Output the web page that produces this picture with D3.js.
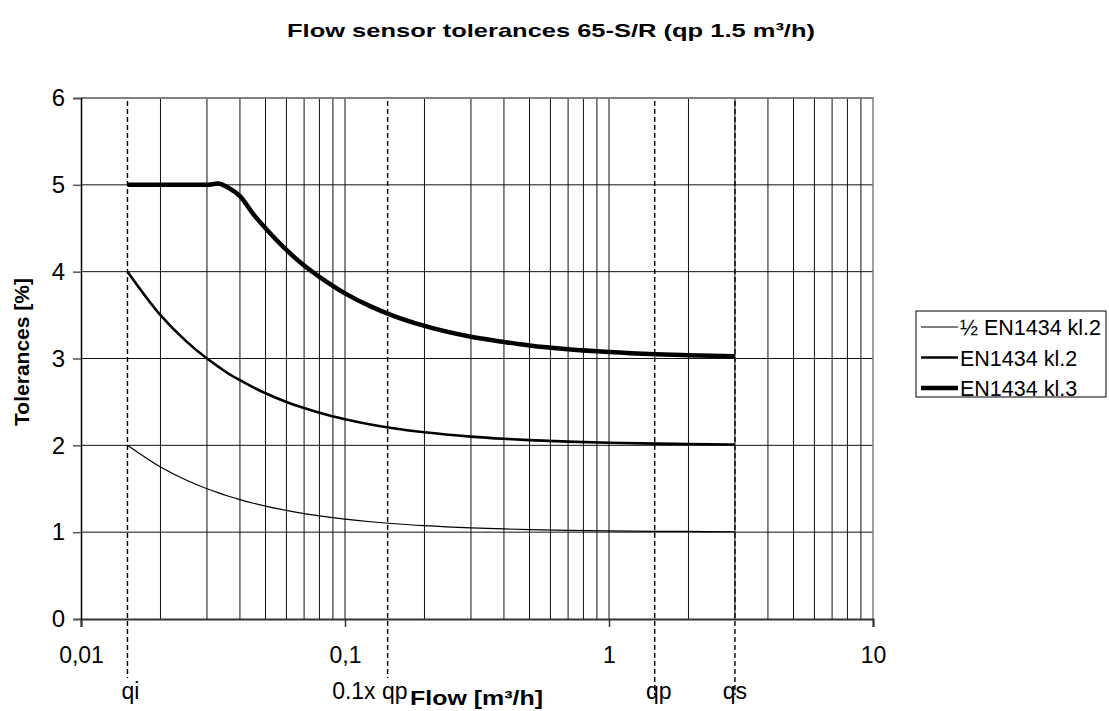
<!DOCTYPE html>
<html>
<head>
<meta charset="utf-8">
<script src="https://cdn.jsdelivr.net/npm/d3@7"></script>
<style>
  body { margin: 0; background: #fff; }
  text { font-family: Arial, "Liberation Sans", sans-serif; }
</style>
</head>
<body>
<div id="chart"></div>
<script>
const flow = [0.015, 0.02, 0.025, 0.03, 0.033, 0.036, 0.04, 0.045, 0.05, 0.06, 0.07, 0.08, 0.1, 0.125, 0.15, 0.2, 0.3, 0.4, 0.5, 0.7, 1, 1.5, 2, 3];
const halfKl2 = [2, 1.75, 1.6, 1.5, 1.455, 1.417, 1.375, 1.333, 1.3, 1.25, 1.214, 1.188, 1.15, 1.12, 1.1, 1.075, 1.05, 1.038, 1.03, 1.021, 1.015, 1.01, 1.008, 1.005];
const kl2 = [4, 3.5, 3.2, 3.0, 2.91, 2.83, 2.75, 2.667, 2.6, 2.5, 2.43, 2.375, 2.3, 2.24, 2.2, 2.15, 2.1, 2.075, 2.06, 2.043, 2.03, 2.02, 2.015, 2.01];
const kl3 = [5, 5, 5, 5, 5.015, 4.97, 4.87, 4.66, 4.5, 4.25, 4.07, 3.94, 3.75, 3.6, 3.5, 3.375, 3.25, 3.19, 3.15, 3.107, 3.075, 3.05, 3.038, 3.025];

const seriesNames = ['\u00BD EN1434 kl.2', 'EN1434 kl.2', 'EN1434 kl.3'];
const seriesWidths = [1.2, 2.6, 4.5];

// reference flows (dashed markers)
const markerNames = ['qi', '0.1x qp', 'qp', 'qs'];
const markerFlows = [0.015, 0.145, 1.49, 3];

const xTicks = [0.01, 0.1, 1, 10];
const yTicks = [0, 1, 2, 3, 4, 5, 6];

const width = 1109, height = 711;
const margin = {top: 98, right: 236, bottom: 92, left: 81};
const plotW = width - margin.left - margin.right;
const plotH = height - margin.top - margin.bottom;

const svg = d3.select('#chart').append('svg')
  .attr('width', width)
  .attr('height', height);

const x = d3.scaleLog().domain([0.01, 10]).range([0, plotW]);
const y = d3.scaleLinear().domain([0, 6]).range([plotH, 0]);

const g = svg.append('g').attr('transform', `translate(${margin.left},${margin.top})`);

// vertical grid: 1..9 in every decade
const gridX = [];
[0.01, 0.1, 1].forEach(dec => {
  for (let k = 1; k <= 9; k++) gridX.push(dec * k);
});
g.append('g').selectAll('line')
  .data(gridX.filter(v => v > 0.01))
  .enter().append('line')
  .attr('x1', d => x(d)).attr('x2', d => x(d))
  .attr('y1', 0).attr('y2', plotH)
  .attr('stroke', '#111').attr('stroke-width', 1);

g.append('g').selectAll('line')
  .data(yTicks.filter(v => v > 0))
  .enter().append('line')
  .attr('x1', 0).attr('x2', plotW)
  .attr('y1', d => y(d)).attr('y2', d => y(d))
  .attr('stroke', '#111').attr('stroke-width', 1);

// plot border (top / right)
g.append('path')
  .attr('d', `M0,0H${plotW}V${plotH}`)
  .attr('fill', 'none')
  .attr('stroke', '#808080')
  .attr('stroke-width', 1.5);

// dashed marker lines
const markerBottom = [678, 678, 695, 695];
g.append('g').selectAll('line')
  .data(markerFlows)
  .enter().append('line')
  .attr('x1', d => x(d)).attr('x2', d => x(d))
  .attr('y1', 3).attr('y2', (d, i) => markerBottom[i] - margin.top)
  .attr('stroke', '#000')
  .attr('stroke-width', 1.4)
  .attr('stroke-dasharray', '5,3');

// curves
const line = d3.line()
  .x(d => x(d[0]))
  .y(d => y(d[1]))
  .curve(d3.curveMonotoneX);

[halfKl2, kl2, kl3].forEach((vals, i) => {
  g.append('path')
    .datum(flow.map((f, j) => [f, vals[j]]))
    .attr('d', line)
    .attr('fill', 'none')
    .attr('stroke', '#000')
    .attr('stroke-width', seriesWidths[i])
    .attr('stroke-linejoin', 'round');
});

// axes
const xAxis = g.append('g')
  .attr('transform', `translate(0,${plotH})`)
  .call(d3.axisBottom(x).tickValues(xTicks).tickSize(8).tickPadding(20)
    .tickFormat(d => String(d).replace('.', ',')));
xAxis.select('.domain').attr('stroke', '#333').attr('stroke-width', 2);
xAxis.selectAll('.tick line').attr('stroke', '#333').attr('stroke-width', 1.5);
xAxis.selectAll('text').attr('font-size', 23).attr('fill', '#000')
  .style('font-family', 'Arial, "Liberation Sans", sans-serif');

const yAxis = g.append('g')
  .call(d3.axisLeft(y).tickValues(yTicks).tickSize(8).tickPadding(8)
    .tickFormat(d3.format('d')));
yAxis.select('.domain').attr('stroke', '#000').attr('stroke-width', 1.5);
yAxis.selectAll('.tick line').attr('stroke', '#555').attr('stroke-width', 1.5);
yAxis.selectAll('text').attr('font-size', 24).attr('fill', '#000')
  .style('font-family', 'Arial, "Liberation Sans", sans-serif');

// marker labels
const markerAnchor = ['middle', 'end', 'middle', 'middle'];
const markerDx = [3, 20, 4, 0];
g.append('g').selectAll('text')
  .data(markerFlows)
  .enter().append('text')
  .attr('x', d => x(d))
  .attr('dx', (d, i) => markerDx[i])
  .attr('y', 699 - margin.top)
  .attr('text-anchor', (d, i) => markerAnchor[i])
  .attr('font-size', 23)
  .text((d, i) => markerNames[i]);

// titles
svg.append('text')
  .attr('x', 287).attr('y', 37)
  .attr('font-size', 19).attr('font-weight', 'bold')
  .attr('textLength', 528).attr('lengthAdjust', 'spacingAndGlyphs')
  .text('Flow sensor tolerances 65-S/R (qp 1.5 m\u00B3/h)');

svg.append('text')
  .attr('x', 410).attr('y', 705)
  .attr('font-size', 20).attr('font-weight', 'bold')
  .attr('textLength', 133).attr('lengthAdjust', 'spacingAndGlyphs')
  .text('Flow [m\u00B3/h]');

svg.append('text')
  .attr('transform', 'translate(29,352) rotate(-90)')
  .attr('text-anchor', 'middle')
  .attr('font-size', 21).attr('font-weight', 'bold')
  .text('Tolerances [%]');

// legend
const legend = svg.append('g').attr('transform', 'translate(916,311)');
legend.append('rect')
  .attr('x', 0).attr('y', 0).attr('width', 190).attr('height', 86)
  .attr('fill', '#fff').attr('stroke', '#000').attr('stroke-width', 1);
const rows = legend.selectAll('.row')
  .data(seriesNames)
  .enter().append('g')
  .attr('transform', (d, i) => `translate(0,${16 + i * 30.5})`);
rows.append('line')
  .attr('x1', 5).attr('x2', 42).attr('y1', 0).attr('y2', 0)
  .attr('stroke', '#000')
  .attr('stroke-width', (d, i) => seriesWidths[i]);
rows.append('text')
  .attr('x', 44).attr('y', 8)
  .attr('font-size', 21.5)
  .text(d => d);
</script>
</body>
</html>
